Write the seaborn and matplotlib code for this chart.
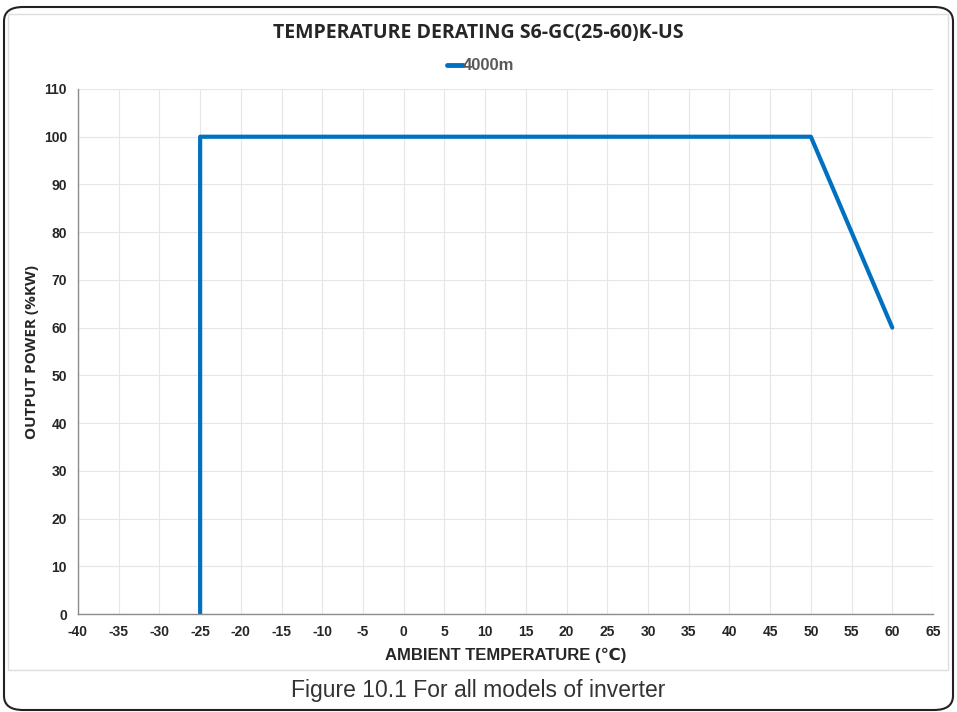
import matplotlib.pyplot as plt
import seaborn as sns
import pandas as pd
from matplotlib.patches import FancyBboxPatch, Rectangle

# data
temp_c = [-25, -25, 50, 60]
power_pct = [0, 100, 100, 60]
series_name = '4000m'
x_ticks = list(range(-40, 70, 5))
y_ticks = list(range(0, 120, 10))

df = pd.DataFrame({'temp': temp_c, 'power': power_pct, 'series': series_name})

sns.set_style('white')
narrow = ['Liberation Sans Narrow', 'Liberation Sans', 'DejaVu Sans']
plt.rcParams['font.family'] = narrow

fig = plt.figure(figsize=(9.57, 7.12), dpi=100)
fig.patch.set_facecolor('white')

# outer rounded frame and inner chart-area box
fig.patches.append(FancyBboxPatch((4/957, 2/712), 949/957, 703/712,
                                  boxstyle='round,pad=0,rounding_size=0.02',
                                  transform=fig.transFigure, fill=False,
                                  edgecolor='#222222', linewidth=1.5))
fig.patches.append(Rectangle((8/957, 42/712), 940/957, 656/712,
                             transform=fig.transFigure, fill=False,
                             edgecolor='#dddddd', linewidth=1.0))

ax = fig.add_axes([78/957, 1-614/712, (933-78)/957, (614-89)/712])
sns.lineplot(data=df, x='temp', y='power', hue='series', sort=False, estimator=None,
             palette=['#0070C0'], linewidth=3, ax=ax, legend=False)

ax.set_xlim(-40, 65)
ax.set_ylim(0, 110)
ax.set_xticks(x_ticks)
ax.set_yticks(y_ticks)
ax.set_xticklabels([str(v) for v in x_ticks], fontsize=10, fontweight='bold')
ax.set_yticklabels([str(v) for v in y_ticks], fontsize=10, fontweight='bold')
ax.grid(True, color='#e6e6e6', linewidth=0.8)
ax.set_axisbelow(True)
for s in ['top', 'right']:
    ax.spines[s].set_visible(False)
for s in ['left', 'bottom']:
    ax.spines[s].set_color('#8c8c8c')
    ax.spines[s].set_linewidth(1.0)
ax.tick_params(axis='both', direction='out', length=4, color='#8c8c8c', pad=4)

ax.set_xlabel('AMBIENT TEMPERATURE (\u2103)', fontsize=12, fontweight='bold', labelpad=6)
ax.set_ylabel('OUTPUT POWER (%KW)', fontsize=11, fontweight='bold', labelpad=3,
              family=['Open Sans', 'DejaVu Sans'])

fig.text(0.5, 1-33/712, 'TEMPERATURE DERATING S6-GC(25-60)K-US', ha='center', va='center',
         fontsize=14, fontweight='bold', family=['Open Sans', 'DejaVu Sans'])

# legend entry
fig.lines.append(plt.Line2D([447/957, 463/957], [1-65/712, 1-65/712],
                            transform=fig.transFigure, color='#0070C0', linewidth=3.5))
fig.text(463/957, 1-65/712, series_name, ha='left', va='center', fontsize=12,
         fontweight='bold', color='#595959')

fig.text(0.5, 1-690/712, 'Figure 10.1 For all models of inverter', ha='center', va='center',
         fontsize=16.5, color='#333333')

plt.savefig('out.png', dpi=100)
